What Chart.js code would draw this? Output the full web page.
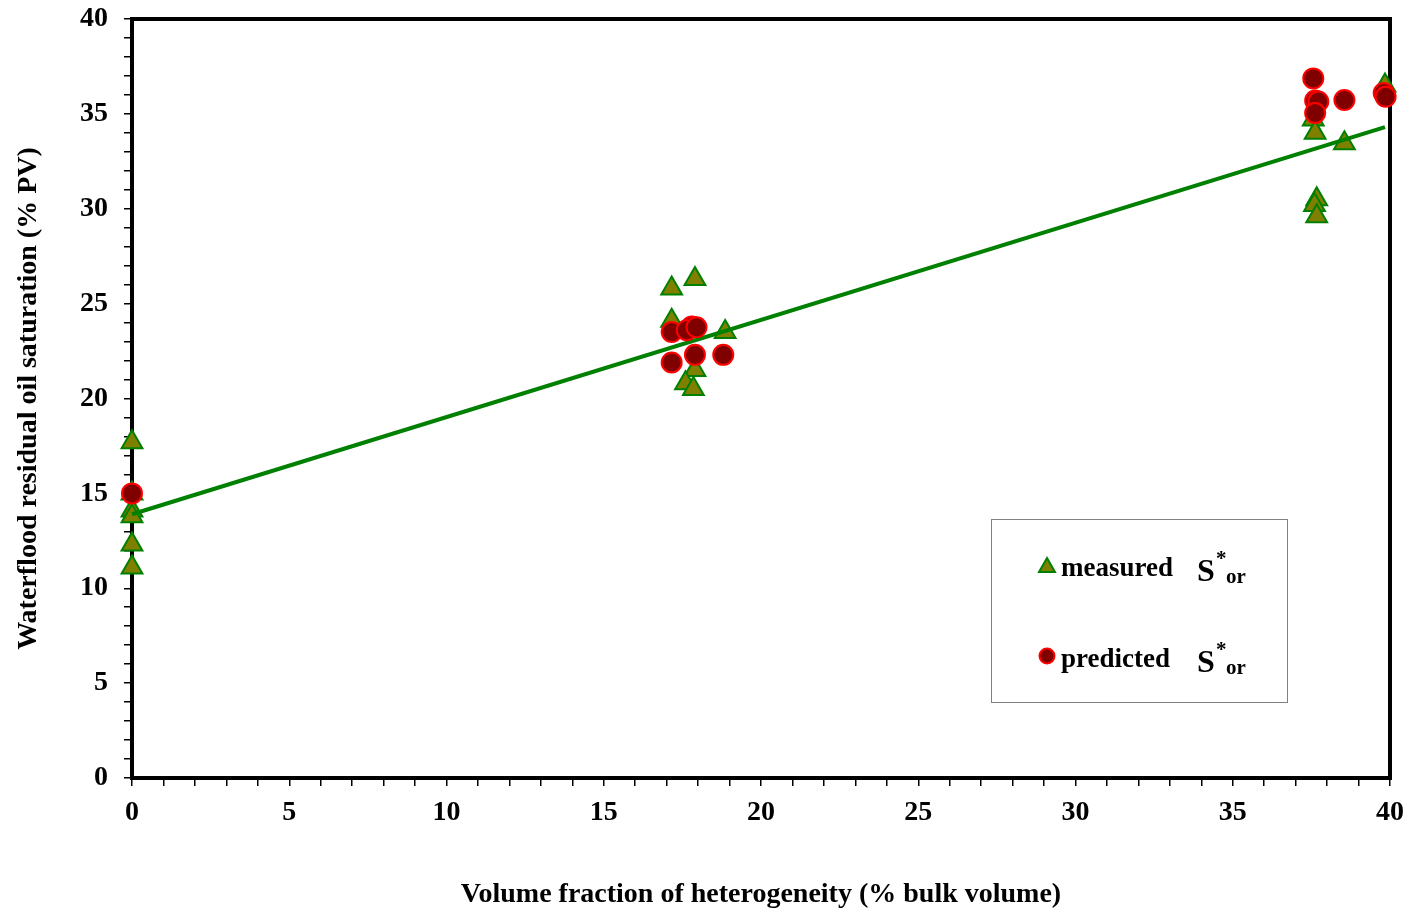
<!DOCTYPE html>
<html>
<head>
<meta charset="utf-8">
<script src="https://cdn.jsdelivr.net/npm/chart.js@4.4.0/dist/chart.umd.min.js"></script>
<style>
  html, body { margin: 0; padding: 0; background: #fff; }
</style>
</head>
<body>
<canvas id="myChart" width="1414" height="912"></canvas>
<script>
// measured S*or (triangles)
var measuredX = [0, 0, 0, 0, 0, 0,
                 17.16, 17.9, 17.16, 18.86, 17.9, 17.6, 17.85,
                 37.56, 37.62, 38.55, 39.84, 37.67, 37.6, 37.67];
var measuredY = [17.7, 15.0, 14.1, 13.8, 12.3, 11.1,
                 25.8, 26.3, 24.1, 23.5, 21.5, 20.8, 20.5,
                 34.7, 34.0, 33.45, 36.5, 30.5, 30.2, 29.6];
// predicted S*or (circles)
var predictedX = [0,
                  17.16, 17.8, 17.64, 17.95, 17.16, 17.9, 18.8,
                  37.56, 37.62, 37.72, 37.62, 38.55, 39.8, 39.86];
var predictedY = [15.0,
                  23.5, 23.8, 23.6, 23.75, 21.9, 22.3, 22.3,
                  36.87, 35.7, 35.65, 35.05, 35.73, 36.1, 35.9];
// straight-line fit through the measured values
var trendX = [0, 39.84];
var trendY = [13.9, 34.3];

var xTickLabels = [0, 5, 10, 15, 20, 25, 30, 35, 40];
var yTickLabels = [0, 5, 10, 15, 20, 25, 30, 35, 40];
var seriesNames = ['measured', 'predicted'];

var serif = "'Liberation Serif', 'Times New Roman', serif";

function toPoints(xs, ys) {
  var out = [];
  for (var i = 0; i < xs.length; i++) out.push({x: xs[i], y: ys[i]});
  return out;
}

// heavy black box round the plot area, under the markers
var frame = {
  id: 'frame',
  beforeDatasetsDraw: function(chart) {
    var a = chart.chartArea, ctx = chart.ctx;
    ctx.save();
    ctx.strokeStyle = '#000';
    ctx.lineWidth = 4;
    ctx.strokeRect(a.left, a.top, a.right - a.left, a.bottom - a.top);
    ctx.restore();
  }
};

// boxed legend with S*or written out
var legendBox = {
  id: 'legendBox',
  afterDraw: function(chart) {
    var ctx = chart.ctx;
    ctx.save();
    ctx.fillStyle = '#fff';
    ctx.fillRect(991, 519, 296, 183);
    ctx.strokeStyle = '#808080';
    ctx.lineWidth = 1;
    ctx.strokeRect(991.5, 519.5, 296, 183);

    var rows = [566, 657];
    for (var i = 0; i < seriesNames.length; i++) {
      var y = rows[i];
      if (i === 0) {
        ctx.beginPath();
        ctx.moveTo(1047, y - 8);
        ctx.lineTo(1055, y + 6);
        ctx.lineTo(1039, y + 6);
        ctx.closePath();
        ctx.fillStyle = '#808000';
        ctx.fill();
        ctx.strokeStyle = '#008000';
        ctx.lineWidth = 2;
        ctx.stroke();
      } else {
        ctx.beginPath();
        ctx.arc(1047, y - 1, 7.5, 0, Math.PI * 2);
        ctx.fillStyle = '#800000';
        ctx.fill();
        ctx.strokeStyle = '#ff0000';
        ctx.lineWidth = 2;
        ctx.stroke();
      }
      ctx.fillStyle = '#000';
      ctx.textBaseline = 'alphabetic';
      ctx.textAlign = 'left';
      ctx.font = 'bold 27px ' + serif;
      ctx.fillText(seriesNames[i], 1061, y + 10);
      ctx.font = 'bold 32px ' + serif;
      ctx.fillText('S', 1197, y + 15);
      ctx.font = 'bold 21px ' + serif;
      ctx.fillText('*', 1216, y - 1);
      ctx.fillText('or', 1226, y + 17);
    }
    ctx.restore();
  }
};

var ctx = document.getElementById('myChart');
var myChart = new Chart(ctx, {
  type: 'scatter',
  data: {
    datasets: [{
      label: 'predicted',
      data: toPoints(predictedX, predictedY),
      pointStyle: 'circle',
      pointRadius: 10,
      pointBackgroundColor: '#800000',
      pointBorderColor: '#ff0000',
      pointBorderWidth: 2,
      clip: false
    }, {
      label: 'fit',
      type: 'line',
      data: toPoints(trendX, trendY),
      borderColor: '#008000',
      borderWidth: 4,
      pointRadius: 0,
      fill: false,
      clip: false
    }, {
      label: 'measured',
      data: toPoints(measuredX, measuredY),
      pointStyle: 'triangle',
      pointRadius: 12,
      pointBackgroundColor: '#808000',
      pointBorderColor: '#008000',
      pointBorderWidth: 2,
      clip: false
    }]
  },
  options: {
    responsive: false,
    animation: false,
    layout: { padding: { top: 19, right: 24, left: 0, bottom: 0 } },
    plugins: {
      legend: { display: false },
      tooltip: { enabled: false }
    },
    scales: {
      x: {
        type: 'linear',
        min: 0,
        max: 40,
        border: { display: false },
        grid: { drawOnChartArea: false, drawTicks: true, tickLength: 8, color: '#000', lineWidth: 1.5 },
        ticks: {
          stepSize: 1,
          autoSkip: false,
          maxRotation: 0,
          padding: 10,
          color: '#000',
          font: { family: serif, size: 28, weight: 'bold' },
          callback: function(v) { return xTickLabels.indexOf(v) >= 0 ? String(v) : ''; }
        },
        title: {
          display: true,
          text: 'Volume fraction of heterogeneity (% bulk volume)',
          color: '#000',
          font: { family: serif, size: 28, weight: 'bold' },
          padding: { top: 0, bottom: 0 }
        },
        afterFit: function(scale) {
          scale.height = 134;
          scale.paddingLeft = 0;
          scale.paddingRight = 0;
        }
      },
      y: {
        type: 'linear',
        min: 0,
        max: 40,
        border: { display: false },
        grid: { drawOnChartArea: false, drawTicks: true, tickLength: 8, color: '#000', lineWidth: 1.5 },
        ticks: {
          stepSize: 1,
          autoSkip: false,
          padding: 16,
          color: '#000',
          font: { family: serif, size: 28, weight: 'bold' },
          callback: function(v) { return yTickLabels.indexOf(v) >= 0 ? String(v) : ''; }
        },
        title: {
          display: true,
          text: 'Waterflood residual oil saturation (% PV)',
          color: '#000',
          font: { family: serif, size: 28, weight: 'bold' },
          padding: { top: 12, bottom: 0 }
        },
        afterFit: function(scale) {
          scale.width = 132;
          scale.paddingTop = 0;
          scale.paddingBottom = 0;
        }
      }
    }
  },
  plugins: [frame, legendBox]
});
</script>
</body>
</html>
